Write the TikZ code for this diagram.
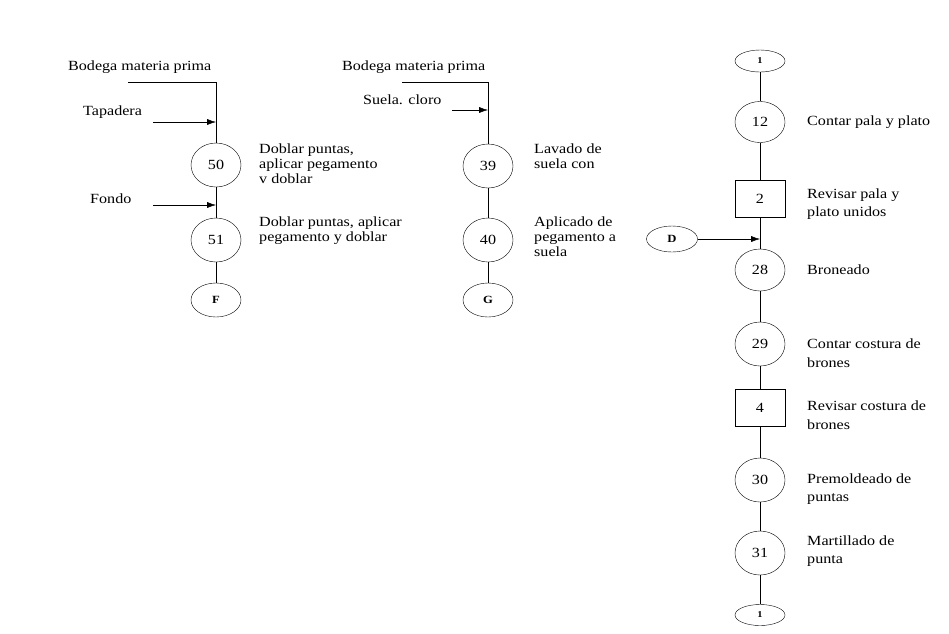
\documentclass[tikz,border=0pt]{standalone}
\usepackage{fontspec}
\setmainfont{Liberation Serif}[FakeStretch=1.15]
\usetikzlibrary{shapes.geometric,arrows.meta}
\tikzset{
  oper/.style={draw, ellipse, minimum width=50pt, minimum height=44pt, inner sep=0pt},
  insp/.style={draw, rectangle, minimum width=50pt, minimum height=37pt, inner sep=0pt},
  conect/.style={draw, ellipse, minimum width=50pt, minimum height=34pt, inner sep=0pt, font=\bfseries\fontsize{11}{11}\selectfont},
  desc/.style={anchor=west, align=left, inner sep=0pt},
  descr/.style={desc, font=\fontsize{14}{18.5}\selectfont},
  flecha/.style={-{Latex[length=9pt,width=6pt]}},
}
\begin{document}
\begin{tikzpicture}[x=1pt, y=-1pt, font=\fontsize{14}{15}\selectfont]
\useasboundingbox (0,0) rectangle (949,633);

% columna 1
\node[oper] (n50) at (216,165) {50};
\node[oper] (n51) at (216,240) {51};
\node[conect] (nF) at (216,300) {F};
\coordinate (bod1) at (128,82);
\coordinate (bod1c) at (216,82);
\coordinate (tap) at (153,122);
\coordinate (tapc) at (216,122);
\coordinate (fon) at (153,205);
\coordinate (fonc) at (216,205);
\draw (bod1) -- (bod1c) -- (n50);
\draw[flecha] (tap) -- (tapc);
\draw (n50) -- (n51);
\draw[flecha] (fon) -- (fonc);
\draw (n51) -- (nF);
\node[desc] (tbod1) at (68,67) {Bodega materia prima};
\node[desc] (ttap) at (83,112) {Tapadera};
\node[desc] (tfon) at (90,199) {Fondo};
\node[desc, anchor=north west] (t50) at (259,144) {Doblar puntas,\\aplicar pegamento\\v doblar};
\node[desc, anchor=north west] (t51) at (259,217) {Doblar puntas, aplicar\\pegamento y doblar};

% columna 2
\node[oper] (n39) at (488,166) {39};
\node[oper] (n40) at (488,240) {40};
\node[conect] (nG) at (488,300) {G};
\coordinate (bod2) at (402,82);
\coordinate (bod2c) at (488,82);
\coordinate (sue) at (452,110);
\coordinate (suec) at (488,110);
\draw (bod2) -- (bod2c) -- (n39);
\draw[flecha] (sue) -- (suec);
\draw (n39) -- (n40);
\draw (n40) -- (nG);
\node[desc] (tbod2) at (342,67) {Bodega materia prima};
\node[desc] (tsue) at (363,100) {Suela. cloro};
\node[desc, anchor=north west] (t39) at (534,144) {Lavado de\\suela con};
\node[desc, anchor=north west] (t40) at (534,217) {Aplicado de\\pegamento a\\suela};

% columna 3
\node[conect, minimum height=22pt, font=\bfseries\fontsize{9}{9}\selectfont] (c1a) at (760,61) {1};
\node[oper, minimum height=41pt] (n12) at (760,122) {12};
\node[insp] (i2) at (760,199) {2};
\node[conect, minimum width=51pt, minimum height=26pt] (nD) at (672,239) {D};
\node[oper, minimum height=42pt] (n28) at (760,270) {28};
\node[oper] (n29) at (760,344) {29};
\node[insp] (i4) at (760,408) {4};
\node[oper] (n30) at (760,480) {30};
\node[oper] (n31) at (760,553) {31};
\node[conect, minimum height=21pt, font=\bfseries\fontsize{9}{9}\selectfont] (c1b) at (760,615) {1};
\coordinate (dc) at (760,239);
\draw (c1a) -- (n12) -- (i2) -- (n28) -- (n29) -- (i4) -- (n30) -- (n31) -- (c1b);
\draw[flecha] (nD) -- (dc);
\node[descr] (t12) at (807,122) {Contar pala y plato};
\node[descr] (t2) at (807,204) {Revisar pala y\\plato unidos};
\node[descr] (t28) at (807,270) {Broneado};
\node[descr] (t29) at (807,353) {Contar costura de\\brones};
\node[descr] (t4) at (807,415) {Revisar costura de\\brones};
\node[descr] (t30) at (807,489) {Premoldeado de\\puntas};
\node[descr] (t31) at (807,551) {Martillado de\\punta};
\end{tikzpicture}
\end{document}
